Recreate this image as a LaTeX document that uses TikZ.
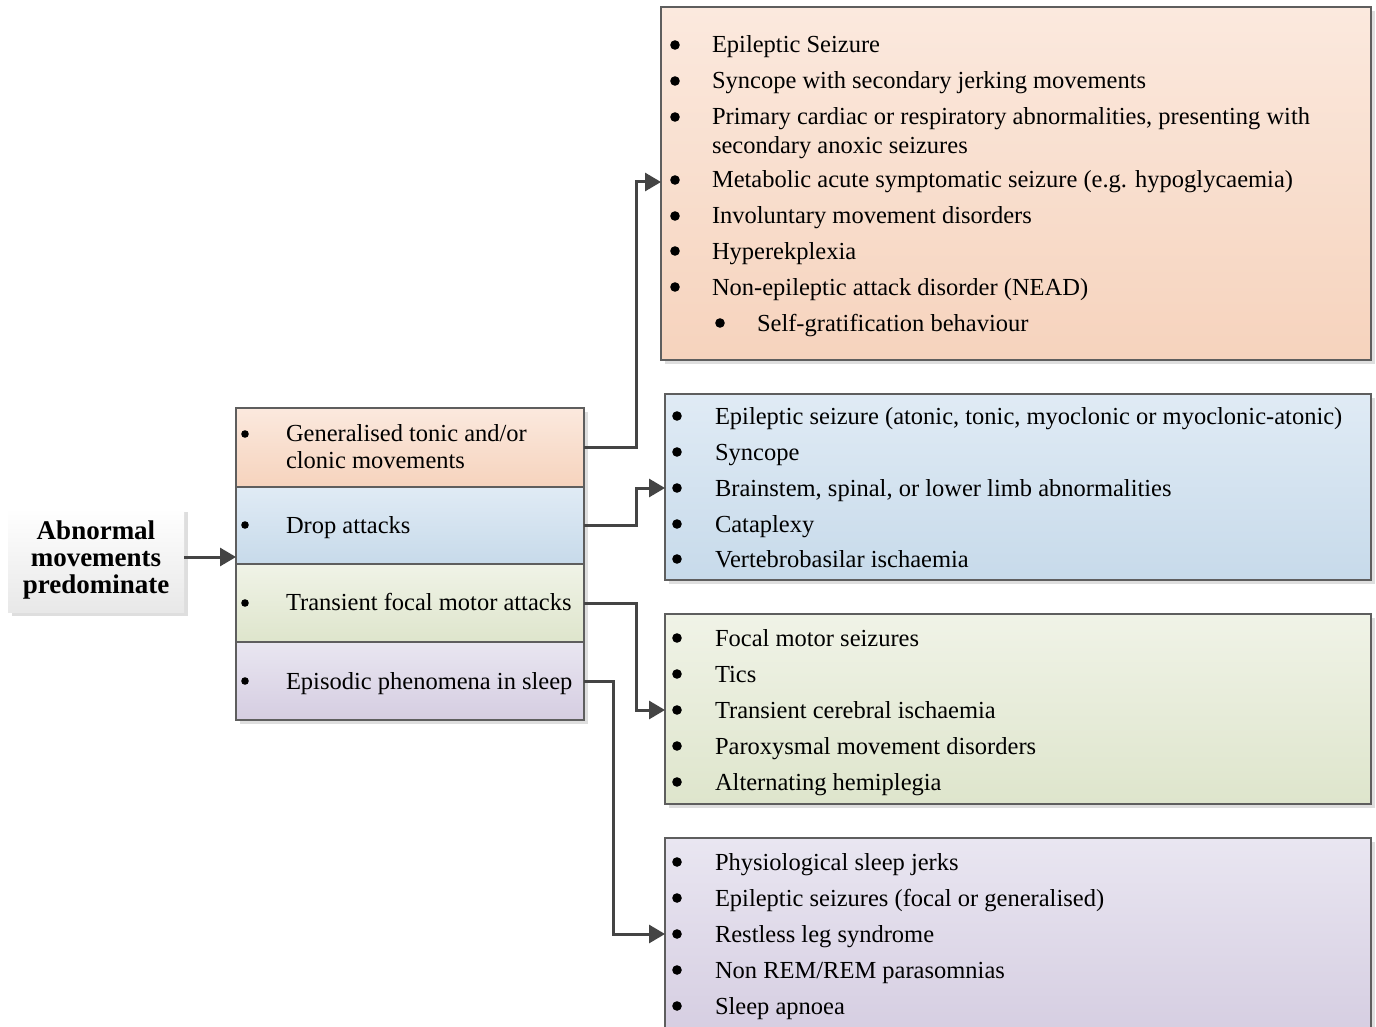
\documentclass[tikz,border=0pt]{standalone}
\usepackage{fontspec}
\setmainfont{Liberation Serif}
\usetikzlibrary{arrows.meta}
\definecolor{orT}{HTML}{FBE9DE}\definecolor{orB}{HTML}{F6D3BD}
\definecolor{blT}{HTML}{E0EBF5}\definecolor{blB}{HTML}{C7DAEA}
\definecolor{grT}{HTML}{F0F3E7}\definecolor{grB}{HTML}{DEE5CC}
\definecolor{puT}{HTML}{E9E6F1}\definecolor{puB}{HTML}{D5CDE1}
\definecolor{bordc}{HTML}{5E5E5E}
\definecolor{connc}{HTML}{444444}
\newcommand\itemline[5]{\fill (#2,#4) circle (4.8); \node[txt] (#1) at (#3,#4+8) {#5};}
\begin{document}
\begin{tikzpicture}[x=1pt,y=-1pt,
  box/.style={draw=bordc, line width=1.3pt, outer sep=0pt, inner sep=0pt, anchor=north west},
  shad/.style={fill=black, opacity=0.13},
  txt/.style={anchor=base west, inner sep=0pt, outer sep=0pt, font=\fontsize{24.5}{30}\selectfont},
  conn/.style={draw=connc, line width=3pt, -{Triangle[length=16pt,width=18pt]}}]
\useasboundingbox (0,0) rectangle (1376,1027);
\fill[white] (0,0) rectangle (1376,1027);
% shadows
\fill[shad] (12,512) rectangle (188,616);
\fill[shad] (240,412) rectangle (588,724);
\fill[shad] (665,11) rectangle (1375,364);
\fill[shad] (669,398) rectangle (1375,584);
\fill[shad] (669,618) rectangle (1375,808);
\fill[shad] (669,842) rectangle (1375,1040);
% source
\node[anchor=north west, inner sep=0pt, outer sep=0pt, minimum width=176, minimum height=104,
  top color=white, bottom color=black!9, align=center,
  font=\bfseries\fontsize{27}{27}\selectfont] (src) at (8,508) {Abnormal\\movements\\predominate};
% middle stack
\node[box, minimum width=348, minimum height=79, top color=orT, bottom color=orB] (r1) at (236,408) {};
\node[box, minimum width=348, minimum height=77, top color=blT, bottom color=blB] (r2) at (236,487) {};
\node[box, minimum width=348, minimum height=78, top color=grT, bottom color=grB] (r3) at (236,564) {};
\node[box, minimum width=348, minimum height=78, top color=puT, bottom color=puB] (r4) at (236,642) {};
\fill (245,434) circle (3.8); \node[txt] (m1a) at (286,441) {Generalised tonic and/or};
\node[txt] (m1b) at (286,468) {clonic movements};
\fill (245,525) circle (3.8); \node[txt] (m2) at (286,533) {Drop attacks};
\fill (245,603) circle (3.8); \node[txt] (m3) at (286,610) {Transient focal motor attacks};
\fill (245,681) circle (3.8); \node[txt] (m4) at (286,689) {Episodic phenomena in sleep};
% right boxes
\node[box, minimum width=710, minimum height=353, top color=orT, bottom color=orB] (b1) at (661,7) {};
\node[box, minimum width=706, minimum height=186, top color=blT, bottom color=blB] (b2) at (665,394) {};
\node[box, minimum width=706, minimum height=190, top color=grT, bottom color=grB] (b3) at (665,614) {};
\node[box, minimum width=706, minimum height=202, top color=puT, bottom color=puB] (b4) at (665,838) {};
% orange items
\itemline{o1}{675}{712}{45}{Epileptic Seizure}
\itemline{o2}{675}{712}{81}{Syncope with secondary jerking movements}
\itemline{o3}{675}{712}{117}{Primary cardiac or respiratory abnormalities, presenting with}
\node[txt] (o3b) at (712,154) {secondary anoxic seizures};
\itemline{o4}{675}{712}{180}{Metabolic acute symptomatic seizure (e.g. hypoglycaemia)}
\itemline{o5}{675}{712}{216}{Involuntary movement disorders}
\itemline{o6}{675}{712}{251}{Hyperekplexia}
\itemline{o7}{675}{712}{287}{Non-epileptic attack disorder (NEAD)}
\itemline{o8}{720}{757}{323}{Self-gratification behaviour}
% blue items
\itemline{p1}{677}{715}{416}{Epileptic seizure (atonic, tonic, myoclonic or myoclonic-atonic)}
\itemline{p2}{677}{715}{452}{Syncope}
\itemline{p3}{677}{715}{488}{Brainstem, spinal, or lower limb abnormalities}
\itemline{p4}{677}{715}{524}{Cataplexy}
\itemline{p5}{677}{715}{559}{Vertebrobasilar ischaemia}
% green items
\itemline{g1}{677}{715}{638}{Focal motor seizures}
\itemline{g2}{677}{715}{674}{Tics}
\itemline{g3}{677}{715}{710}{Transient cerebral ischaemia}
\itemline{g4}{677}{715}{746}{Paroxysmal movement disorders}
\itemline{g5}{677}{715}{782}{Alternating hemiplegia}
% purple items
\itemline{q1}{677}{715}{862}{Physiological sleep jerks}
\itemline{q2}{677}{715}{898}{Epileptic seizures (focal or generalised)}
\itemline{q3}{677}{715}{934}{Restless leg syndrome}
\itemline{q4}{677}{715}{970}{Non REM/REM parasomnias}
\itemline{q5}{677}{715}{1006}{Sleep apnoea}
% connectors
\coordinate (t0) at (236,557);
\coordinate (t1) at (661,182);
\coordinate (t2) at (665,488);
\coordinate (t3) at (665,710);
\coordinate (t4) at (665,934);
\draw[conn] (src.east |- t0) -- (t0);
\draw[conn] (r1.east) -- ++(52,0) |- (t1);
\draw[conn] (r2.east) -- ++(52,0) |- (t2);
\draw[conn] (r3.east) -- ++(52,0) |- (t3);
\draw[conn] (r4.east) -- ++(29,0) |- (t4);
\end{tikzpicture}
\end{document}
